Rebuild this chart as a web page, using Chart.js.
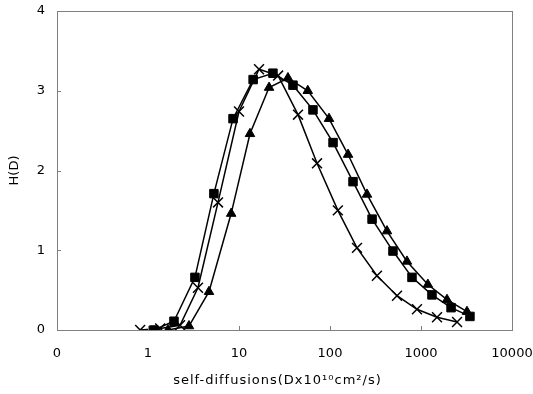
<!DOCTYPE html>
<html>
<head>
<meta charset="utf-8">
<script src="https://cdn.jsdelivr.net/npm/chart.js@4/dist/chart.umd.min.js"></script>
<style>
  html, body { margin: 0; padding: 0; background: #fff; }
  #wrap { width: 533px; height: 394px; }
</style>
</head>
<body>
<div id="wrap"><canvas id="chart"></canvas></div>
<script>
// series (x = D x 10^10 cm2/s, y = H(D))
const crossX = [0.82, 1.36, 2.25, 3.54, 5.88, 10.0, 16.6, 26.9, 44.5, 72, 122, 198, 328, 545, 903, 1500, 2490];
const crossY = [0, 0.02, 0.06, 0.53, 1.60, 2.74, 3.27, 3.19, 2.70, 2.09, 1.50, 1.03, 0.68, 0.43, 0.26, 0.16, 0.10];

const squareX = [1.16, 1.93, 3.28, 5.3, 8.6, 14.3, 23.6, 39.2, 65, 108, 179, 290, 492, 796, 1320, 2140, 3450];
const squareY = [0, 0.11, 0.66, 1.71, 2.65, 3.14, 3.22, 3.07, 2.76, 2.35, 1.86, 1.39, 0.99, 0.66, 0.44, 0.28, 0.17];

const triX = [1.66, 2.82, 4.68, 8.2, 13.2, 21.4, 34.5, 57, 97.5, 158, 255, 423, 701, 1190, 1930, 3200];
const triY = [0, 0.05, 0.48, 1.46, 2.46, 3.04, 3.16, 3.00, 2.65, 2.20, 1.70, 1.24, 0.86, 0.57, 0.38, 0.23];

const xTicks = [0.1, 1, 10, 100, 1000, 10000];
const yTicks = [0, 1, 2, 3, 4];

function pts(xs, ys) {
    return xs.map((x, i) => ({ x: x, y: ys[i] }));
}

function series(xs, ys, style, r) {
    return {
        data: pts(xs, ys),
        showLine: true,
        borderColor: "#000",
        borderWidth: 1.5,
        backgroundColor: "#000",
        pointStyle: style,
        pointRadius: r,
        pointBorderColor: "#000",
        pointBorderWidth: style === "crossRot" ? 1.5 : 1,
        tension: 0
    };
}

// gray frame round the plot area, short inward ticks on both axes
const frame = {
    id: "frame",
    afterDraw(chart) {
        const { ctx, chartArea: a } = chart;
        const xs = chart.scales.x, ys = chart.scales.y;
        ctx.save();
        ctx.strokeStyle = "#808080";
        ctx.lineWidth = 1;
        ctx.strokeRect(a.left + 0.5, a.top + 0.5, a.right - a.left, a.bottom - a.top);
        ctx.beginPath();
        xs.ticks.forEach(t => {
            const px = Math.round(xs.getPixelForValue(t.value)) + 0.5;
            ctx.moveTo(px, a.bottom);
            ctx.lineTo(px, a.bottom - 4);
        });
        ys.ticks.forEach(t => {
            const py = Math.round(ys.getPixelForValue(t.value)) + 0.5;
            ctx.moveTo(a.left, py);
            ctx.lineTo(a.left + 4, py);
        });
        ctx.stroke();
        ctx.restore();
    }
};

const font = { family: "'DejaVu Sans', sans-serif", size: 13 };

new Chart(document.getElementById("chart").getContext("2d"), {
    type: "scatter",
    data: {
        datasets: [
            series(crossX, crossY, "crossRot", 7),
            series(triX, triY, "triangle", 5.5),
            series(squareX, squareY, "rect", 6)
        ]
    },
    options: {
        animation: false,
        responsive: true,
        maintainAspectRatio: false,
        layout: { padding: { top: 11, right: 21, left: 0, bottom: 0 } },
        plugins: { legend: { display: false }, tooltip: { enabled: false } },
        scales: {
            x: {
                type: "logarithmic",
                min: 0.1,
                max: 10000,
                afterBuildTicks: s => { s.ticks = xTicks.map(v => ({ value: v, major: true })); },
                afterFit: s => {
                    s.height = 64;
                    s.paddingLeft = 0;
                    s.paddingRight = 0;
                    // the title is letter-spaced and sits a bit left of centre
                    if (!s._spaced) {
                        const orig = s.drawTitle;
                        s.drawTitle = function () {
                            this.ctx.save();
                            this.ctx.letterSpacing = "1px";
                            this.ctx.translate(-7, 0);
                            orig.call(this);
                            this.ctx.restore();
                        };
                        s._spaced = true;
                    }
                },
                grid: { display: false, drawTicks: false },
                border: { display: false },
                ticks: {
                    color: "#000",
                    font: font,
                    padding: 16,
                    maxRotation: 0,
                    autoSkip: false,
                    callback: v => (v === 0.1 ? "0" : String(v))
                },
                title: {
                    display: true,
                    text: "self-diffusions(Dx10¹⁰cm²/s)",
                    color: "#000",
                    font: font,
                    padding: { top: 0, bottom: 6 }
                }
            },
            y: {
                min: 0,
                max: 4,
                afterBuildTicks: s => { s.ticks = yTicks.map(v => ({ value: v })); },
                afterFit: s => {
                    s.width = 57;
                    s.paddingTop = 0;
                    s.paddingBottom = 0;
                },
                grid: { display: false, drawTicks: false },
                border: { display: false },
                ticks: { color: "#000", font: font, padding: 12 },
                title: {
                    display: true,
                    text: "H(D)",
                    color: "#000",
                    font: font,
                    padding: { top: 7, bottom: 0 }
                }
            }
        }
    },
    plugins: [frame]
});
</script>
</body>
</html>
